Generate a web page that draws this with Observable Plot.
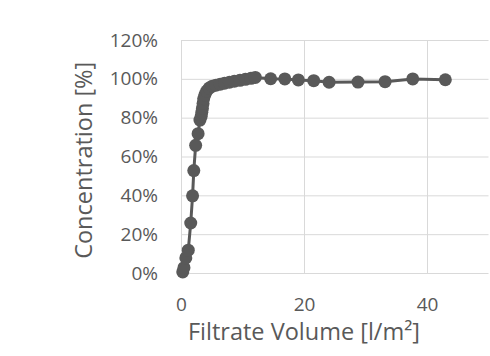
<!DOCTYPE html>
<html>
<head>
<meta charset="utf-8">
<script src="https://cdn.jsdelivr.net/npm/d3@7"></script>
<script src="https://cdn.jsdelivr.net/npm/@observablehq/plot@0.6"></script>
<style>
  html, body { margin: 0; padding: 0; background: #fff; }
  #chart svg { display: block; }
</style>
</head>
<body>
<div id="chart"></div>
<script>
const volume = [0.2, 0.4, 0.7, 1.1, 1.5, 1.8, 2.0, 2.3, 2.7, 3.0, 3.2, 3.3, 3.4, 3.5, 3.6, 3.8, 4.1, 4.5, 5.0, 5.6, 6.3, 7.0, 7.8, 8.6, 9.5, 10.4, 11.3, 12.0, 14.5, 16.8, 19.0, 21.5, 24.0, 28.7, 33.1, 37.6, 42.9];
const concentration = [0.8, 3, 8, 12, 26, 40, 53, 66, 72, 79, 81, 83, 85, 87.5, 90, 92, 94, 95.5, 96.5, 97, 97.5, 98, 98.5, 99, 99.5, 100, 100.5, 101, 100.3, 100.2, 99.7, 99.3, 98.5, 98.6, 98.8, 100.2, 99.8];
const xTicks = [0, 20, 40];
const yTicks = [0, 20, 40, 60, 80, 100, 120];
const xTitle = "Filtrate Volume [l/m²]";
const yTitle = "Concentration [%]";

const data = volume.map((v, i) => ({v, c: concentration[i]}));
const ink = "#595959";
const grid = "#d9d9d9";

const chart = Plot.plot({
  width: 490,
  height: 356,
  marginLeft: 181,
  marginRight: 1.5,
  marginTop: 40,
  marginBottom: 83,
  style: {fontFamily: "Open Sans", color: ink, background: "#fff"},
  x: {domain: [0, 50]},
  y: {domain: [0, 120]},
  marks: [
    Plot.gridY(yTicks, {stroke: grid, strokeOpacity: 1, strokeWidth: 1}),
    Plot.gridX(xTicks, {stroke: grid, strokeOpacity: 1, strokeWidth: 1}),
    Plot.axisX(xTicks, {tickSize: 0, tickPadding: 24, fontSize: 19, fill: ink, label: null}),
    Plot.axisY(yTicks, {tickSize: 0, tickPadding: 23.5, fontSize: 19, fill: ink, label: null, tickFormat: d => d + "%"}),
    Plot.text([xTitle], {frameAnchor: "bottom-left", textAnchor: "middle", dx: 122.5, dy: 50, lineAnchor: "top", fontSize: 23.5, fill: ink}),
    Plot.text([yTitle], {frameAnchor: "left", textAnchor: "middle", rotate: -90, dx: -97, dy: 3.3, lineAnchor: "middle", fontSize: 23.5, fill: ink}),
    Plot.line(data, {x: "v", y: "c", stroke: ink, strokeWidth: 3}),
    Plot.dot(data, {x: "v", y: "c", r: 6.5, fill: ink, stroke: "none"})
  ]
});
document.getElementById("chart").appendChild(chart);
</script>
</body>
</html>
